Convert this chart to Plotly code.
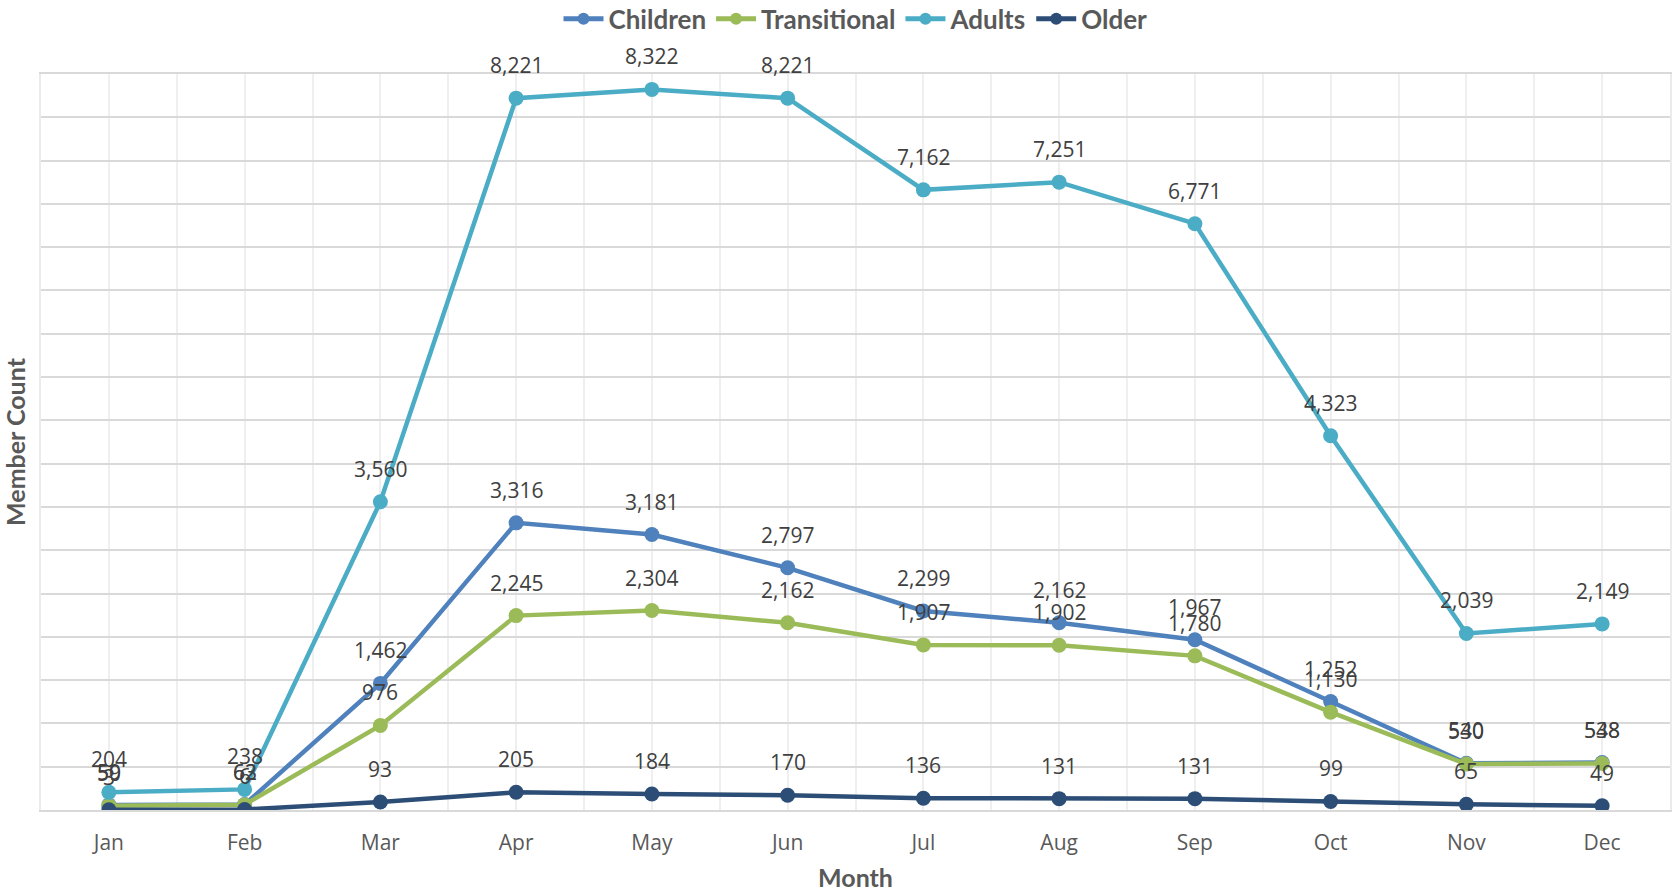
import plotly.graph_objects as go

months = ["Jan", "Feb", "Mar", "Apr", "May", "Jun", "Jul", "Aug", "Sep", "Oct", "Nov", "Dec"]

children = [59, 63, 1462, 3316, 3181, 2797, 2299, 2162, 1967, 1252, 540, 548]
transitional = [50, 62, 976, 2245, 2304, 2162, 1907, 1902, 1780, 1130, 530, 538]
adults = [204, 238, 3560, 8221, 8322, 8221, 7162, 7251, 6771, 4323, 2039, 2149]
older = [3, 6, 93, 205, 184, 170, 136, 131, 131, 99, 65, 49]

series = [
    ("Children", children, "#4F81BD"),
    ("Transitional", transitional, "#9BBB59"),
    ("Adults", adults, "#4BACC6"),
    ("Older", older, "#2C4D75"),
]

LABEL_FONT = "Open Sans"
TITLE_FONT = "Lato"

x_idx = list(range(len(months)))

fig = go.Figure()
annotations = []
for name, values, color in series:
    fig.add_trace(go.Scatter(
        x=x_idx, y=values, name=name, mode="lines+markers",
        line=dict(color=color, width=4.5),
        marker=dict(color=color, size=15),
        hoverinfo="skip",
    ))
    for i, v in zip(x_idx, values):
        annotations.append(dict(
            x=i, y=v, text=f"{v:,}", showarrow=False,
            xanchor="center", yanchor="middle", yshift=33,
            font=dict(family=LABEL_FONT, size=21, color="#404040"),
        ))

half_ticks = [i - 0.5 for i in range(len(months) + 1)]

fig.update_layout(
    width=1675, height=893,
    margin=dict(l=41, r=5, t=74, b=83, autoexpand=False),
    paper_bgcolor="white", plot_bgcolor="white",
    showlegend=True,
    legend=dict(
        orientation="h", x=0.5, xanchor="center", y=1.075, yanchor="middle",
        font=dict(family=TITLE_FONT, size=26, color="#595959", weight="bold"),
        itemsizing="constant", traceorder="normal", bgcolor="rgba(0,0,0,0)",
        itemwidth=40,
    ),
    annotations=annotations,
    xaxis=dict(
        range=[-0.5, len(months) - 0.5],
        tickmode="array", tickvals=x_idx, ticktext=months,
        tickfont=dict(family=LABEL_FONT, size=21, color="#595959"),
        showgrid=True, gridcolor="#EFEFEF", gridwidth=2,
        minor=dict(tickmode="array", tickvals=half_ticks, showgrid=True,
                   gridcolor="#EFEFEF", gridwidth=2, ticks=""),
        showline=True, mirror=True, linecolor="#D9D9D9", linewidth=2,
        ticks="", ticklabelstandoff=13,
        zeroline=False, automargin=False,
        title=dict(text="<b>Month</b>", standoff=14,
                   font=dict(family=TITLE_FONT, size=25, color="#595959")),
    ),
    yaxis=dict(
        range=[0, 8500], dtick=500, tick0=0,
        showticklabels=False, ticks="",
        showgrid=True, gridcolor="#D9D9D9", gridwidth=2,
        zeroline=False, showline=True, mirror=True,
        linecolor="#EBEBEB", linewidth=2, automargin=False,
        title=dict(text="<b>Member Count</b>", standoff=8,
                   font=dict(family=TITLE_FONT, size=25, color="#595959")),
    ),
)

fig.write_html("out.html")
